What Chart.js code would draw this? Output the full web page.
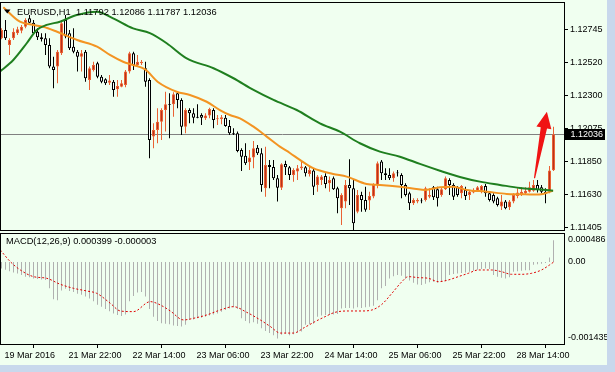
<!DOCTYPE html>
<html><head><meta charset="utf-8">
<script src="https://cdn.jsdelivr.net/npm/chart.js@4.4.0/dist/chart.umd.min.js"></script>
<style>
html,body{margin:0;padding:0;width:615px;height:372px;overflow:hidden;background:#c8d8ec}
#wrap{position:absolute;left:0;top:0;width:607px;height:365px;background:#f0fff0}
#c1{position:absolute;left:0;top:0;width:607px;height:233px}
#c2{position:absolute;left:0;top:231px;width:607px;height:134px}
</style></head><body>
<div id="wrap"><canvas id="c1" width="607" height="233"></canvas><canvas id="c2" width="607" height="134"></canvas></div>
<script>
// ---------- data ----------
const symbol = "EURUSD", timeframe = "H1";
const opens = [1.12685,1.12742,1.12640,1.12685,1.12719,1.12737,1.12764,1.12821,1.12791,1.12730,1.12692,1.12685,1.12640,1.12494,1.12494,1.12584,1.12809,1.12719,1.12629,1.12595,1.12561,1.12595,1.12403,1.12471,1.12516,1.12426,1.12408,1.12385,1.12392,1.12340,1.12358,1.12369,1.12460,1.12584,1.12505,1.12516,1.12482,1.12403,1.12020,1.12065,1.12121,1.12200,1.12239,1.12239,1.12313,1.12268,1.12087,1.12200,1.12178,1.12155,1.12166,1.12144,1.12162,1.12200,1.12137,1.12139,1.12148,1.12092,1.12042,1.12042,1.11929,1.11891,1.11846,1.11878,1.11945,1.11907,1.11670,1.11828,1.11814,1.11738,1.11674,1.11835,1.11812,1.11760,1.11783,1.11805,1.11812,1.11767,1.11790,1.11693,1.11726,1.11754,1.11704,1.11738,1.11670,1.11535,1.11580,1.11693,1.11670,1.11512,1.11625,1.11591,1.11587,1.11614,1.11693,1.11851,1.11772,1.11760,1.11738,1.11777,1.11760,1.11693,1.11636,1.11568,1.11580,1.11587,1.11591,1.11613,1.11677,1.11663,1.11625,1.11663,1.11726,1.11692,1.11677,1.11636,1.11659,1.11625,1.11641,1.11654,1.11654,1.11686,1.11636,1.11625,1.11602,1.11546,1.11580,1.11541,1.11580,1.11618,1.11632,1.11636,1.11647,1.11654,1.11692,1.11677,1.11647,1.11647,1.11792];
const highs = [1.12753,1.12809,1.12685,1.12753,1.12764,1.12776,1.12821,1.12843,1.12809,1.12753,1.12719,1.12719,1.12685,1.12561,1.12606,1.12809,1.12843,1.12742,1.12753,1.12606,1.12606,1.12606,1.12494,1.12527,1.12527,1.12437,1.12415,1.12437,1.12403,1.12403,1.12403,1.12471,1.12595,1.12595,1.12572,1.12539,1.12527,1.12415,1.12110,1.12212,1.12212,1.12324,1.12313,1.12320,1.12324,1.12279,1.12212,1.12212,1.12212,1.12239,1.12178,1.12178,1.12216,1.12212,1.12166,1.12166,1.12166,1.12133,1.12076,1.12054,1.11941,1.11975,1.11929,1.11990,1.11963,1.11941,1.11952,1.11862,1.11862,1.11760,1.11839,1.11857,1.11821,1.11805,1.11828,1.11851,1.11821,1.11817,1.11805,1.11760,1.11760,1.11772,1.11749,1.11749,1.11681,1.11636,1.11726,1.11866,1.11726,1.11659,1.11647,1.11681,1.11647,1.11704,1.11851,1.11862,1.11805,1.11805,1.11783,1.11794,1.11772,1.11704,1.11647,1.11602,1.11602,1.11602,1.11681,1.11670,1.11686,1.11681,1.11677,1.11749,1.11738,1.11704,1.11686,1.11692,1.11681,1.11659,1.11670,1.11686,1.11692,1.11699,1.11647,1.11636,1.11613,1.11625,1.11591,1.11591,1.11636,1.11670,1.11677,1.11677,1.11715,1.11726,1.11726,1.11692,1.11670,1.11821,1.12086];
const lows = [1.12679,1.12674,1.12572,1.12674,1.12708,1.12719,1.12753,1.12787,1.12708,1.12674,1.12663,1.12572,1.12482,1.12347,1.12381,1.12572,1.12685,1.12606,1.12584,1.12460,1.12460,1.12392,1.12336,1.12460,1.12415,1.12381,1.12369,1.12369,1.12290,1.12290,1.12354,1.12354,1.12448,1.12471,1.12494,1.12505,1.12358,1.11873,1.11941,1.11975,1.11997,1.12054,1.12009,1.12155,1.12212,1.12031,1.12042,1.12110,1.12110,1.12144,1.12099,1.12133,1.12144,1.12076,1.12099,1.12103,1.12087,1.12031,1.12031,1.11914,1.11787,1.11828,1.11794,1.11805,1.11896,1.11647,1.11613,1.11670,1.11726,1.11580,1.11659,1.11760,1.11726,1.11715,1.11726,1.11794,1.11749,1.11749,1.11625,1.11647,1.11693,1.11670,1.11647,1.11659,1.11501,1.11422,1.11535,1.11557,1.11365,1.11501,1.11512,1.11512,1.11523,1.11602,1.11670,1.11726,1.11726,1.11726,1.11715,1.11749,1.11602,1.11614,1.11523,1.11557,1.11568,1.11568,1.11580,1.11602,1.11591,1.11546,1.11613,1.11659,1.11625,1.11591,1.11613,1.11602,1.11591,1.11591,1.11636,1.11647,1.11636,1.11613,1.11580,1.11568,1.11546,1.11523,1.11528,1.11523,1.11568,1.11602,1.11618,1.11625,1.11641,1.11647,1.11641,1.11636,1.11568,1.11636,1.11787];
const closes = [1.12742,1.12685,1.12674,1.12730,1.12746,1.12764,1.12809,1.12791,1.12719,1.12692,1.12679,1.12640,1.12494,1.12471,1.12595,1.12787,1.12697,1.12618,1.12595,1.12561,1.12584,1.12415,1.12482,1.12505,1.12426,1.12392,1.12381,1.12399,1.12336,1.12363,1.12381,1.12460,1.12584,1.12505,1.12527,1.12527,1.12392,1.11997,1.12065,1.12121,1.12200,1.12239,1.12234,1.12306,1.12268,1.12087,1.12200,1.12178,1.12148,1.12148,1.12148,1.12162,1.12207,1.12133,1.12144,1.12151,1.12092,1.12042,1.12036,1.11923,1.11884,1.11839,1.11878,1.11941,1.11907,1.11692,1.11828,1.11814,1.11738,1.11674,1.11832,1.11812,1.11760,1.11794,1.11805,1.11817,1.11772,1.11794,1.11681,1.11749,1.11749,1.11699,1.11726,1.11663,1.11602,1.11625,1.11693,1.11670,1.11433,1.11625,1.11591,1.11524,1.11618,1.11693,1.11839,1.11772,1.11760,1.11738,1.11772,1.11772,1.11693,1.11625,1.11568,1.11591,1.11591,1.11582,1.11670,1.11625,1.11609,1.11602,1.11663,1.11738,1.11692,1.11613,1.11625,1.11686,1.11618,1.11647,1.11659,1.11677,1.11686,1.11636,1.11591,1.11580,1.11557,1.11580,1.11535,1.11580,1.11625,1.11641,1.11647,1.11654,1.11677,1.11692,1.11659,1.11647,1.11632,1.11790,1.12036];

// moving averages (bar index, price)
const maFastIdx = [0.45,4.6,7.9,10.4,13.9,18.9,23.9,27.1,30.4,32.9,35.9,39.1,43.8,47.1,51.3,54.6,57.1,59.6,63,66.3,69.6,72.1,74.6,77.9,82.9,86.3,91.3,94.6,99.6,105.9,109.6,112.9,116.3,121.3,126.3,129.6,133,135.4,137.9];
const maFastVal = [1.12896,1.12798,1.12776,1.12764,1.12730,1.12674,1.12629,1.12573,1.12527,1.12505,1.12475,1.12390,1.12324,1.12302,1.12256,1.12200,1.12166,1.12144,1.12087,1.12020,1.11952,1.11909,1.11862,1.11806,1.11767,1.11749,1.11699,1.11693,1.11681,1.11659,1.11677,1.11681,1.11659,1.11647,1.11632,1.11630,1.11628,1.11632,1.11654];
const maSlowIdx = [-0.4,2.95,6.3,8.8,11.3,14.6,18.8,23.8,27.9,32.9,37.1,41.3,46.3,53,58,63,68,73.8,79.6,84.6,89.6,94.6,99.6,104.6,109.6,114.6,119.6,124.6,129.6,134.6,137.9];
const maSlowVal = [1.12460,1.12539,1.12652,1.12742,1.12776,1.12798,1.12843,1.12866,1.12821,1.12753,1.12720,1.12652,1.12550,1.12483,1.12415,1.12336,1.12268,1.12200,1.12110,1.12053,1.11975,1.11918,1.11884,1.11835,1.11789,1.11747,1.11715,1.11693,1.11672,1.11662,1.11653];

// MACD(12,26,9)
const macdMain = [-0.00012,-0.00014,-0.00017,-0.00019,-0.00021,-0.00024,-0.00027,-0.00028,-0.00030,-0.00031,-0.00032,-0.00033,-0.00048,-0.00068,-0.00070,-0.00052,-0.00049,-0.00053,-0.00055,-0.00058,-0.00060,-0.00063,-0.00067,-0.00072,-0.00078,-0.00082,-0.00086,-0.00090,-0.00094,-0.00097,-0.00099,-0.00096,-0.00072,-0.00062,-0.00056,-0.00055,-0.00063,-0.00086,-0.00100,-0.00108,-0.00112,-0.00113,-0.00114,-0.00116,-0.00117,-0.00118,-0.00115,-0.00106,-0.00105,-0.00103,-0.00102,-0.00100,-0.00098,-0.00096,-0.00094,-0.00091,-0.00088,-0.00085,-0.00083,-0.00086,-0.00103,-0.00108,-0.00112,-0.00110,-0.00113,-0.00121,-0.00126,-0.00130,-0.00134,-0.00140,-0.00133,-0.00131,-0.00134,-0.00132,-0.00129,-0.00127,-0.00115,-0.00114,-0.00113,-0.00100,-0.00098,-0.00097,-0.00097,-0.00096,-0.00095,-0.00085,-0.00084,-0.00084,-0.00085,-0.00083,-0.00084,-0.00083,-0.00082,-0.00080,-0.00070,-0.00048,-0.00044,-0.00030,-0.00026,-0.00024,-0.00025,-0.00030,-0.00034,-0.00038,-0.00041,-0.00042,-0.00040,-0.00037,-0.00036,-0.00038,-0.00036,-0.00035,-0.00024,-0.00022,-0.00021,-0.00020,-0.00019,-0.00018,-0.00016,-0.00014,-0.00013,-0.00012,-0.00013,-0.00024,-0.00027,-0.00029,-0.00030,-0.00028,-0.00018,-0.00017,-0.00016,-0.00015,-0.00015,-0.00005,-0.00004,-0.00003,-0.00002,0.00008,0.000399];
const signalIdx = [-0.3,2.2,4.7,8.0,11.3,14.7,18.0,21.3,23.8,27.2,29.7,33.0,37.2,39.7,42.2,45.5,48.0,51.3,54.7,58.0,61.3,64.7,67.2,69.7,73.0,75.7,78.4,80.9,83.4,86.7,90.0,92.6,95.1,97.6,100.1,101.7,104.2,106.7,109.2,111.7,114.2,116.7,119.2,122.5,125.0,127.5,130.0,132.5,135.0,137.0,138.0];
const signalVal = [0.000219,0.000006,-0.000146,-0.000268,-0.000298,-0.000408,-0.000481,-0.000530,-0.000573,-0.000755,-0.000896,-0.000908,-0.000725,-0.000786,-0.000896,-0.00106,-0.00103,-0.000969,-0.000878,-0.000817,-0.000920,-0.00106,-0.00118,-0.00130,-0.00130,-0.00120,-0.00109,-0.00100,-0.00092,-0.000896,-0.000896,-0.000878,-0.000774,-0.000573,-0.000360,-0.000268,-0.000286,-0.000298,-0.000360,-0.000329,-0.000268,-0.000207,-0.000146,-0.000146,-0.000177,-0.000225,-0.000225,-0.000207,-0.000146,-0.000055,-0.000003];

// axis ticks
const priceTicks = [1.12745,1.12520,1.12300,1.12075,1.11850,1.11630,1.11405];
const macdTicks = [0.000486,0,-0.001435];
const macdTickLabels = ["0.000486","0.00","-0.001435"];
const timeTickIdx = [0,16,32,48,64,80,96,112,128];
const timeTickLabels = ["19 Mar 2016","21 Mar 22:00","22 Mar 14:00","23 Mar 06:00","23 Mar 22:00","24 Mar 14:00","25 Mar 06:00","25 Mar 22:00","28 Mar 14:00"];

// annotation arrow (bar index, price)
const arrowFrom = {x:133.25, y:1.11738};
const arrowTo = {x:136.35, y:1.12189};

// ---------- build ----------
const FONT = "'Liberation Sans', Arial, sans-serif";
const N = opens.length;
const idx = opens.map((_, i) => i);
const bull = idx.map(i => closes[i] >= opens[i]);
const last = N - 1;
const X_MIN = -0.125, X_MAX = 140.625;

const frame = {
  id: 'frame',
  afterDraw(chart) {
    const {ctx, chartArea: a} = chart;
    ctx.save();
    ctx.strokeStyle = '#000'; ctx.lineWidth = 1;
    ctx.strokeRect(a.left - 0.5, a.top - 0.5, a.right - a.left + 1, a.bottom - a.top + 1);
    ctx.restore();
  }
};

const mainDeco = {
  id: 'mainDeco',
  beforeDatasetsDraw(chart) {
    const {ctx, chartArea: a, scales: {y}} = chart;
    const yc = Math.round(y.getPixelForValue(closes[last])) + 0.5;
    ctx.save();
    ctx.strokeStyle = '#808080'; ctx.lineWidth = 1;
    ctx.beginPath(); ctx.moveTo(a.left, yc); ctx.lineTo(a.right, yc); ctx.stroke();
    ctx.restore();
  },
  afterDraw(chart) {
    const {ctx, chartArea: a, scales: {x, y}} = chart;
    ctx.save();
    // arrow
    const tx = x.getPixelForValue(arrowTo.x), ty = y.getPixelForValue(arrowTo.y);
    const fx = x.getPixelForValue(arrowFrom.x), fy = y.getPixelForValue(arrowFrom.y);
    const L = Math.hypot(tx - fx, ty - fy), ux = (tx - fx) / L, uy = (ty - fy) / L;
    const nx = -uy, ny = ux;
    const bx = tx - ux * 16.5, by = ty - uy * 16.5;
    ctx.fillStyle = '#f01414';
    ctx.beginPath();
    ctx.moveTo(fx - nx * 0.6, fy - ny * 0.6);
    ctx.lineTo(bx - nx * 3.2, by - ny * 3.2);
    ctx.lineTo(bx - nx * 7.6, by - ny * 7.6);
    ctx.lineTo(tx, ty);
    ctx.lineTo(bx + nx * 7.6, by + ny * 7.6);
    ctx.lineTo(bx + nx * 3.2, by + ny * 3.2);
    ctx.lineTo(fx + nx * 0.6, fy + ny * 0.6);
    ctx.closePath(); ctx.fill();
    // title
    ctx.fillStyle = '#000';
    ctx.beginPath(); ctx.moveTo(4, 9.5); ctx.lineTo(10.5, 9.5); ctx.lineTo(7.25, 13.5); ctx.closePath(); ctx.fill();
    ctx.font = '9.3px ' + FONT; ctx.textBaseline = 'middle'; ctx.textAlign = 'left';
    const title = symbol + ',' + timeframe + '  ' + [opens[last], highs[last], lows[last], closes[last]].map(v => v.toFixed(5)).join(' ');
    ctx.fillText(title, 17, 12);
    // current price box
    ctx.font = '9px ' + FONT;
    const yc = Math.round(y.getPixelForValue(closes[last]));
    ctx.fillStyle = '#000';
    ctx.fillRect(a.right + 1, yc - 5, 40, 11);
    ctx.fillStyle = '#fff';
    ctx.fillText(closes[last].toFixed(5), a.right + 6.5, yc + 0.5);
    ctx.restore();
  }
};

new Chart(document.getElementById('c1'), {
  type: 'bar',
  data: { datasets: [
    { type: 'line', data: maSlowIdx.map((v, i) => ({x: v, y: maSlowVal[i]})), borderColor: '#1f7f1f', borderWidth: 2, pointRadius: 0, cubicInterpolationMode: 'monotone', order: 1 },
    { type: 'line', data: maFastIdx.map((v, i) => ({x: v, y: maFastVal[i]})), borderColor: '#f39422', borderWidth: 2, pointRadius: 0, cubicInterpolationMode: 'monotone', order: 2 },
    { type: 'bar', data: idx.map(i => ({x: i, y: [opens[i], closes[i]]})),
      backgroundColor: bull.map(b => b ? '#b8321c' : '#ffffff'),
      borderColor: bull.map(b => b ? '#ea6234' : '#000000'),
      borderWidth: 1, borderSkipped: false, grouped: false, barPercentage: 0.75, categoryPercentage: 1, maxBarThickness: 3, inflateAmount: 0, order: 3 },
    { type: 'bar', data: idx.map(i => ({x: i, y: [lows[i], highs[i]]})),
      backgroundColor: bull.map(b => b ? '#ea6234' : '#000000'),
      borderWidth: 0, grouped: false, barPercentage: 0.25, categoryPercentage: 1, maxBarThickness: 1, inflateAmount: 0, order: 4 }
  ]},
  options: {
    responsive: false, animation: false, events: [],
    layout: { padding: { left: 1, top: 3, right: 0, bottom: 3 } },
    plugins: { legend: { display: false }, tooltip: { enabled: false } },
    scales: {
      x: { type: 'linear', min: X_MIN, max: X_MAX, offset: false, display: false },
      y: { type: 'linear', position: 'right', min: 1.113876, max: 1.129245, beginAtZero: false,
        afterFit: s => { s.width = 43; s.paddingTop = 0; s.paddingBottom = 0; },
        afterBuildTicks: s => { s.ticks = priceTicks.map(v => ({value: v})); },
        ticks: { callback: v => Number(v).toFixed(5), font: { family: FONT, size: 9 }, color: '#000', padding: 2, autoSkip: false, crossAlign: 'near' },
        grid: { drawOnChartArea: false, drawTicks: true, tickLength: 4, color: '#000', tickColor: '#000' },
        border: { display: false }
      }
    }
  },
  plugins: [mainDeco, frame]
});

const macdDeco = {
  id: 'macdDeco',
  afterDraw(chart) {
    const {ctx, chartArea: a, scales: {y}} = chart;
    ctx.save();
    ctx.fillStyle = '#000';
    ctx.textBaseline = 'middle'; ctx.textAlign = 'left';
    ctx.font = '9.3px ' + FONT;
    ctx.fillText('MACD(12,26,9) ' + macdMain[last].toFixed(6) + ' ' + signalVal[signalVal.length - 1].toFixed(6), 6, a.top + 7.5);
    ctx.font = '9px ' + FONT;
    macdTicks.forEach((v, k) => {
      let py = y.getPixelForValue(v);
      py = Math.max(a.top + 5.5, Math.min(a.bottom - 6.5, py));
      ctx.fillText(macdTickLabels[k], a.right + 4, py);
    });
    ctx.restore();
  }
};

new Chart(document.getElementById('c2'), {
  type: 'bar',
  data: { datasets: [
    { type: 'line', data: signalIdx.map((v, i) => ({x: v, y: signalVal[i]})), borderColor: '#e00000', borderWidth: 1, borderDash: [2, 2], pointRadius: 0, cubicInterpolationMode: 'monotone', order: 1 },
    { type: 'bar', data: idx.map(i => ({x: i, y: macdMain[i]})), backgroundColor: '#b0b0b0', borderWidth: 0, grouped: false, barPercentage: 0.25, categoryPercentage: 1, maxBarThickness: 1, inflateAmount: 0, order: 2 }
  ]},
  options: {
    responsive: false, animation: false, events: [],
    layout: { padding: { left: 1, top: 3, right: 0, bottom: 0 } },
    plugins: { legend: { display: false }, tooltip: { enabled: false } },
    scales: {
      x: { type: 'linear', position: 'bottom', min: X_MIN, max: X_MAX, offset: false,
        afterFit: s => { s.height = 21; s.paddingLeft = 0; s.paddingRight = 0; },
        afterBuildTicks: s => { s.ticks = timeTickIdx.map(v => ({value: v})); },
        ticks: { autoSkip: false, maxRotation: 0, minRotation: 0, align: 'start', labelOffset: 3, padding: 2, font: { family: FONT, size: 9 }, color: '#000', callback: (v, k) => timeTickLabels[k] },
        grid: { drawOnChartArea: false, drawTicks: true, tickLength: 4, color: '#000', tickColor: '#000' },
        border: { display: false }
      },
      y: { type: 'linear', position: 'right', min: -0.0015, max: 0.000512, beginAtZero: false,
        afterFit: s => { s.width = 43; s.paddingTop = 0; s.paddingBottom = 0; },
        ticks: { display: false }, grid: { display: false }, border: { display: false }
      }
    }
  },
  plugins: [macdDeco, frame]
});
</script>
</body></html>
